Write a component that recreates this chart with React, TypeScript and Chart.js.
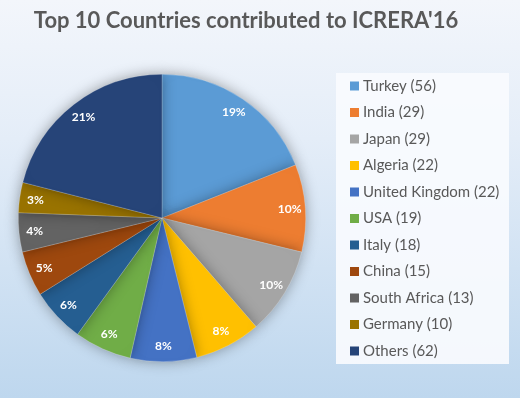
import React, { useEffect, useRef } from "react";
import { Chart, registerables } from "chart.js";

Chart.register(...registerables);

const TITLE = "Top 10 Countries contributed to ICRERA'16";
const countries = ["Turkey", "India", "Japan", "Algeria", "United Kingdom", "USA", "Italy", "China", "South Africa", "Germany", "Others"];
const counts = [56, 29, 29, 22, 22, 19, 18, 15, 13, 10, 62];
const percentLabels = ["19%", "10%", "10%", "8%", "8%", "6%", "6%", "5%", "4%", "3%", "21%"];
const colors = ["#5B9BD5", "#ED7D31", "#A5A5A5", "#FFC000", "#4472C4", "#70AD47", "#255E91", "#9E480E", "#636363", "#997300", "#264478"];

const FONT = "Lato, 'Open Sans', sans-serif";

const bgPlugin = {
  id: "bg",
  beforeDraw(chart: any) {
    const { ctx, width, height } = chart;
    ctx.save();
    const g = ctx.createLinearGradient(0, 0, 0, height);
    g.addColorStop(0, "#f3f6fb");
    g.addColorStop(0.35, "#e4edf8");
    g.addColorStop(1, "#bed7ee");
    ctx.fillStyle = g;
    ctx.fillRect(0, 0, width, height);
    ctx.fillStyle = "#595959";
    ctx.font = `bold 22px ${FONT}`;
    ctx.textAlign = "center";
    ctx.textBaseline = "alphabetic";
    ctx.fillText(TITLE, 246, 28);
    ctx.restore();
  },
  beforeDatasetsDraw(chart: any) {
    const ctx = chart.ctx;
    ctx.save();
    ctx.shadowColor = "rgba(0,0,0,0.35)";
    ctx.shadowBlur = 14;
    ctx.shadowOffsetX = 0;
    ctx.shadowOffsetY = 0;
  },
  afterDatasetsDraw(chart: any) {
    const ctx = chart.ctx;
    ctx.restore();
    const meta = chart.getDatasetMeta(0);
    ctx.save();
    ctx.fillStyle = "#ffffff";
    ctx.font = `bold 12px ${FONT}`;
    ctx.textAlign = "center";
    ctx.textBaseline = "middle";
    meta.data.forEach((arc: any, i: number) => {
      const { x, y, startAngle, endAngle, outerRadius } = arc.getProps(["x", "y", "startAngle", "endAngle", "outerRadius"], true);
      const mid = (startAngle + endAngle) / 2;
      const r = outerRadius * 0.89;
      ctx.fillText(percentLabels[i], x + Math.cos(mid) * r, y + Math.sin(mid) * r);
    });
    ctx.restore();
  },
  afterDraw(chart: any) {
    const ctx = chart.ctx;
    ctx.save();
    const bx = 336, by = 73, bw = 173, bh = 291;
    ctx.fillStyle = "rgba(248,251,254,0.92)";
    ctx.fillRect(bx, by, bw, bh);
    ctx.font = `15px ${FONT}`;
    ctx.textBaseline = "middle";
    ctx.textAlign = "left";
    const labels = chart.data.labels as string[];
    const data = chart.data.datasets[0].data as number[];
    labels.forEach((lab, i) => {
      const cy = 86 + i * 26.5;
      ctx.fillStyle = colors[i];
      ctx.fillRect(350, cy - 4.5, 9, 9);
      ctx.fillStyle = "#595959";
      ctx.fillText(`${lab} (${data[i]})`, 363, cy);
    });
    ctx.restore();
  },
};

export default function App() {
  const ref = useRef<HTMLCanvasElement>(null);
  useEffect(() => {
    document.body.style.margin = "0";
    const chart = new Chart(ref.current!, {
      type: "pie",
      data: {
        labels: countries,
        datasets: [
          {
            data: counts,
            backgroundColor: colors,
            borderWidth: 0.6,
            borderColor: "rgba(255,255,255,0.35)",
          },
        ],
      },
      options: {
        animation: false,
        responsive: true,
        maintainAspectRatio: false,
        layout: { padding: { left: 18, right: 214, top: 74, bottom: 36 } },
        plugins: {
          legend: { display: false },
          tooltip: { enabled: false },
          title: { display: false },
        },
      },
      plugins: [bgPlugin],
    });
    return () => chart.destroy();
  }, []);
  return (
    <div style={{ position: "relative", width: 520, height: 398 }}>
      <canvas ref={ref} />
    </div>
  );
}
